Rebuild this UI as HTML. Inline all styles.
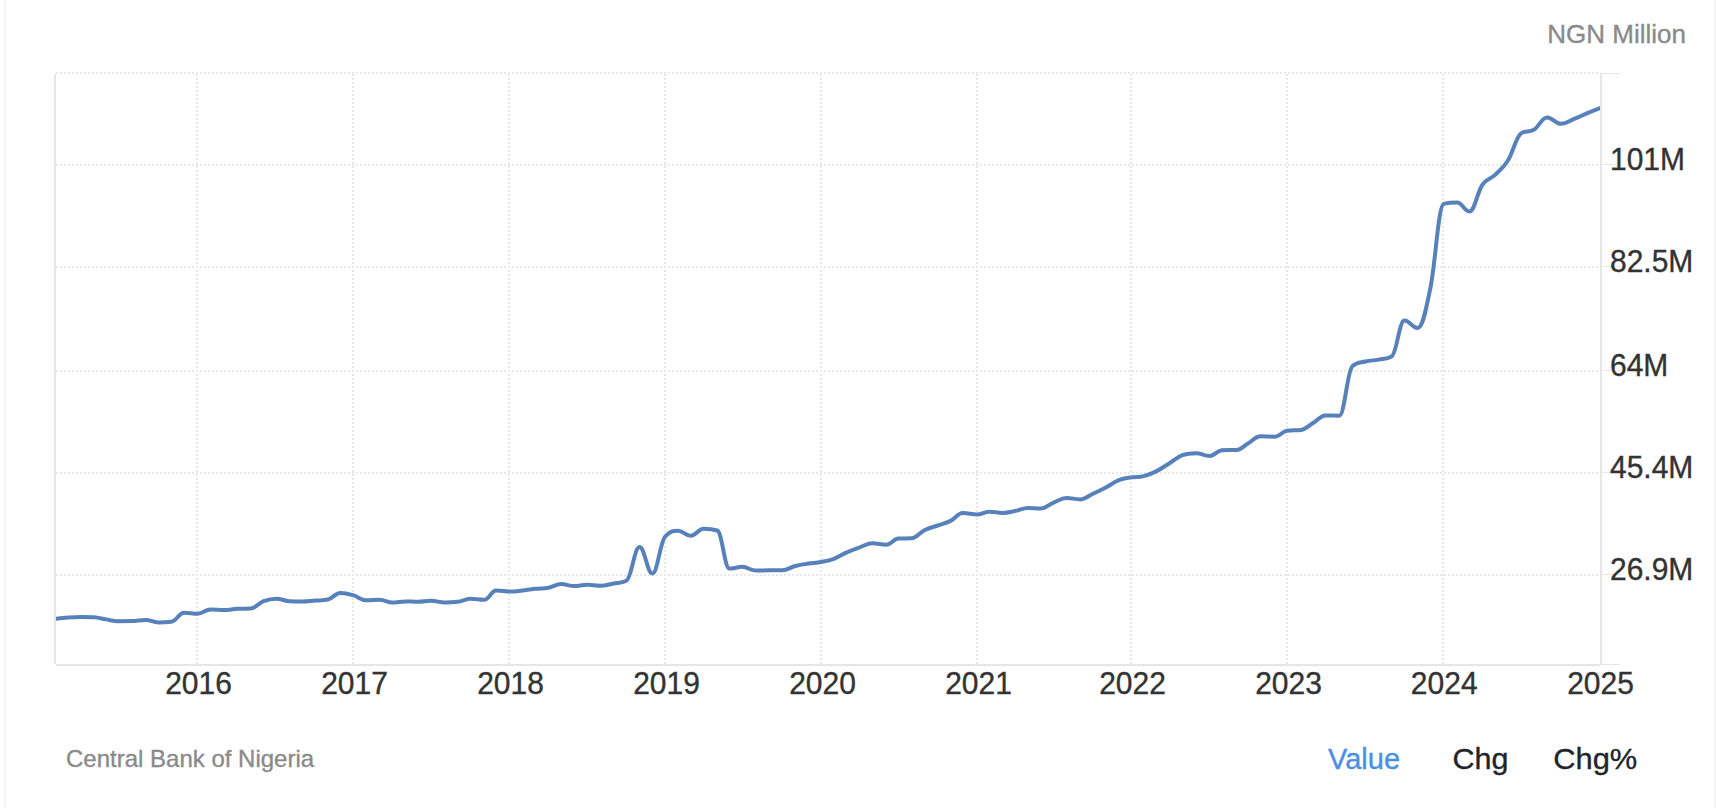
<!DOCTYPE html>
<html lang="en"><head><meta charset="utf-8"><title>Nigeria Money Supply</title>
<style>
html,body{margin:0;padding:0;background:#fff;}
body{width:1716px;height:808px;overflow:hidden;position:relative;font-family:"Liberation Sans",Arial,Helvetica,sans-serif;}
</style></head><body>
<svg width="1716" height="808" viewBox="0 0 1716 808" style="position:absolute;left:0;top:0">
<defs><clipPath id="plot"><rect x="56" y="74" width="1544" height="590"/></clipPath></defs>
<rect x="4" y="0" width="2" height="808" fill="#f4f4f4"/>
<rect x="1714" y="0" width="2" height="808" fill="#f4f4f4"/>
<line x1="56" y1="73" x2="1600" y2="73" stroke="#e8e8e8" stroke-width="2" stroke-dasharray="2 2"/>
<line x1="56" y1="165" x2="1600" y2="165" stroke="#e8e8e8" stroke-width="2" stroke-dasharray="2 2"/>
<line x1="56" y1="267" x2="1600" y2="267" stroke="#e8e8e8" stroke-width="2" stroke-dasharray="2 2"/>
<line x1="56" y1="371" x2="1600" y2="371" stroke="#e8e8e8" stroke-width="2" stroke-dasharray="2 2"/>
<line x1="56" y1="473" x2="1600" y2="473" stroke="#e8e8e8" stroke-width="2" stroke-dasharray="2 2"/>
<line x1="56" y1="575" x2="1600" y2="575" stroke="#e8e8e8" stroke-width="2" stroke-dasharray="2 2"/>
<line x1="197" y1="74" x2="197" y2="664" stroke="#e8e8e8" stroke-width="2" stroke-dasharray="2 2"/>
<line x1="353" y1="74" x2="353" y2="664" stroke="#e8e8e8" stroke-width="2" stroke-dasharray="2 2"/>
<line x1="509" y1="74" x2="509" y2="664" stroke="#e8e8e8" stroke-width="2" stroke-dasharray="2 2"/>
<line x1="665" y1="74" x2="665" y2="664" stroke="#e8e8e8" stroke-width="2" stroke-dasharray="2 2"/>
<line x1="821" y1="74" x2="821" y2="664" stroke="#e8e8e8" stroke-width="2" stroke-dasharray="2 2"/>
<line x1="977" y1="74" x2="977" y2="664" stroke="#e8e8e8" stroke-width="2" stroke-dasharray="2 2"/>
<line x1="1131" y1="74" x2="1131" y2="664" stroke="#e8e8e8" stroke-width="2" stroke-dasharray="2 2"/>
<line x1="1287" y1="74" x2="1287" y2="664" stroke="#e8e8e8" stroke-width="2" stroke-dasharray="2 2"/>
<line x1="1443" y1="74" x2="1443" y2="664" stroke="#e8e8e8" stroke-width="2" stroke-dasharray="2 2"/>
<rect x="54" y="74" width="2" height="590" fill="#e6e6e6"/>
<rect x="56" y="664" width="1544" height="2" fill="#e6e6e6"/>
<rect x="1600" y="73" width="2" height="592" fill="#e6e6e6"/>
<line x1="1602" y1="73.5" x2="1620" y2="73.5" stroke="#e6e6e6" stroke-width="1"/>
<line x1="1602" y1="164.5" x2="1620" y2="164.5" stroke="#e6e6e6" stroke-width="1"/>
<line x1="1602" y1="266.5" x2="1620" y2="266.5" stroke="#e6e6e6" stroke-width="1"/>
<line x1="1602" y1="370.5" x2="1620" y2="370.5" stroke="#e6e6e6" stroke-width="1"/>
<line x1="1602" y1="472.5" x2="1620" y2="472.5" stroke="#e6e6e6" stroke-width="1"/>
<line x1="1602" y1="574.5" x2="1620" y2="574.5" stroke="#e6e6e6" stroke-width="1"/>
<line x1="1602" y1="664.5" x2="1620" y2="664.5" stroke="#e6e6e6" stroke-width="1"/>
<path d="M55.0 618.9C55.0 618.9 62.9 618.0 68.2 617.6C73.4 617.2 75.9 617.0 81.1 617.0C86.2 617.0 88.8 617.0 93.9 617.3C98.7 617.6 101.2 618.6 106.0 619.4C110.9 620.2 113.3 621.2 118.2 621.2C123.6 621.2 126.4 621.2 131.8 621.1C137.3 621.0 140.0 620.0 145.5 620.0C150.6 620.0 153.2 622.4 158.3 622.4C163.5 622.4 166.0 622.4 171.2 621.8C176.4 621.2 178.9 612.7 184.1 612.7C189.5 612.7 192.3 613.8 197.7 613.8C202.9 613.8 205.4 609.4 210.6 609.4C216.0 609.4 218.8 610.0 224.2 610.0C229.4 610.0 231.9 609.1 237.1 608.8C242.6 608.5 245.3 608.8 250.8 608.5C255.9 608.2 258.5 603.1 263.6 601.2C268.8 599.3 271.3 598.8 276.5 598.8C281.7 598.8 284.2 600.9 289.4 601.2C294.6 601.5 297.1 601.5 302.3 601.5C307.5 601.5 310.0 601.0 315.2 600.6C320.3 600.2 322.9 600.6 328.0 599.5C332.9 598.4 335.3 592.9 340.2 592.9C345.3 592.9 347.9 593.7 353.0 595.2C358.2 596.7 360.7 600.2 365.9 600.2C371.3 600.2 374.1 599.8 379.5 599.8C384.7 599.8 387.2 602.6 392.4 602.6C397.6 602.6 400.1 601.4 405.3 601.4C410.5 601.4 413.0 601.8 418.2 601.8C423.4 601.8 425.9 600.8 431.1 600.8C436.5 600.8 439.3 602.4 444.7 602.4C449.9 602.4 452.4 602.4 457.6 601.8C462.8 601.2 465.3 598.8 470.5 598.8C475.9 598.8 478.7 599.8 484.1 599.8C488.9 599.8 491.4 590.5 496.2 590.5C501.6 590.5 504.4 591.5 509.8 591.5C515.0 591.5 517.5 591.0 522.7 590.5C527.9 590.0 530.4 589.4 535.6 588.8C540.8 588.2 543.3 588.6 548.5 587.7C553.6 586.8 556.1 584.1 561.2 584.1C566.4 584.1 568.9 586.1 574.1 586.1C579.3 586.1 581.8 584.8 587.0 584.8C592.4 584.8 595.2 585.8 600.6 585.8C605.8 585.8 608.3 584.5 613.5 583.5C618.7 582.5 621.2 583.5 626.4 580.8C631.6 578.1 634.3 547.1 639.5 547.1C644.7 547.1 647.2 573.5 652.4 573.5C657.4 573.5 660.0 542.8 665.0 536.8C670.2 530.8 672.7 530.8 677.9 530.8C683.1 530.8 685.6 535.8 690.8 535.8C695.9 535.8 698.5 528.8 703.6 528.8C709.1 528.8 711.8 528.8 717.3 530.5C722.1 532.2 724.6 568.6 729.4 568.6C734.6 568.6 737.1 566.8 742.3 566.8C747.7 566.8 750.5 570.6 755.9 570.6C761.1 570.6 763.6 570.3 768.8 570.3C774.2 570.3 777.0 570.3 782.4 570.3C787.6 570.3 790.1 567.3 795.3 566.0C800.5 564.7 803.0 564.4 808.2 563.6C813.4 562.8 815.9 563.0 821.1 562.0C826.2 561.0 828.8 560.7 833.9 558.8C839.1 556.9 841.6 554.7 846.8 552.4C852.0 550.1 854.5 549.1 859.7 547.3C864.9 545.5 867.4 543.3 872.6 543.3C878.0 543.3 880.8 544.8 886.2 544.8C891.0 544.8 893.5 538.9 898.3 538.6C903.6 538.3 906.2 538.6 911.5 538.3C916.8 538.0 919.5 532.6 924.8 530.0C930.0 527.5 932.5 527.3 937.7 525.5C942.9 523.7 945.4 523.5 950.6 520.9C955.4 518.5 957.9 513.0 962.7 513.0C968.5 513.0 971.3 514.5 977.1 514.5C981.9 514.5 984.4 511.7 989.2 511.7C994.7 511.7 997.4 512.9 1002.9 512.9C1008.1 512.9 1010.6 511.8 1015.8 510.8C1020.6 509.9 1023.1 508.0 1027.9 508.0C1033.1 508.0 1035.6 508.5 1040.8 508.5C1045.9 508.5 1048.5 504.7 1053.6 502.6C1058.8 500.5 1061.3 497.9 1066.5 497.9C1072.0 497.9 1074.7 499.4 1080.2 499.4C1085.3 499.4 1087.9 496.2 1093.0 493.8C1098.2 491.4 1100.7 490.1 1105.9 487.4C1111.1 484.7 1113.6 482.3 1118.8 480.2C1123.6 478.3 1126.1 478.2 1130.9 477.4C1136.1 476.6 1138.6 477.4 1143.8 476.1C1149.0 474.8 1151.5 473.7 1156.7 471.1C1161.8 468.5 1164.4 466.4 1169.5 463.2C1174.7 460.0 1177.2 457.2 1182.4 455.2C1187.9 453.2 1190.6 453.2 1196.1 453.2C1201.5 453.2 1204.3 455.9 1209.7 455.9C1214.5 455.9 1217.0 450.4 1221.8 450.2C1227.8 450.0 1230.8 450.2 1236.8 450.0C1241.1 449.8 1243.3 446.3 1247.6 443.8C1252.8 440.8 1255.3 436.2 1260.5 436.2C1266.2 436.2 1269.0 436.7 1274.7 436.7C1279.6 436.7 1282.1 431.5 1287.0 430.7C1292.6 429.9 1295.5 430.7 1301.1 429.9C1306.1 429.1 1308.5 425.7 1313.5 422.8C1318.3 419.9 1320.7 415.4 1325.5 415.4C1331.0 415.4 1333.8 415.7 1339.3 415.7C1344.6 415.7 1347.2 370.5 1352.5 366.0C1357.7 361.5 1360.3 362.8 1365.5 361.5C1370.7 360.2 1373.4 360.6 1378.6 359.6C1383.8 358.6 1386.4 359.6 1391.6 356.6C1396.7 353.6 1399.3 320.6 1404.4 320.6C1409.7 320.6 1412.3 328.0 1417.6 328.0C1422.6 328.0 1425.2 313.0 1430.2 289.0C1435.6 263.3 1438.3 205.2 1443.7 203.9C1449.1 202.6 1451.8 202.6 1457.2 202.6C1462.1 202.6 1464.6 211.5 1469.5 211.5C1474.6 211.5 1477.2 192.3 1482.3 185.0C1487.4 177.7 1490.0 179.8 1495.1 174.9C1500.3 169.9 1502.9 168.5 1508.1 160.2C1513.3 151.9 1515.9 136.8 1521.1 133.3C1526.2 129.8 1528.7 132.9 1533.8 129.8C1539.1 126.5 1541.8 117.4 1547.1 117.4C1552.6 117.4 1555.4 123.8 1560.9 123.8C1566.5 123.8 1569.2 120.8 1574.8 118.6C1579.6 116.7 1582.1 115.4 1586.9 113.4C1592.1 111.2 1600.0 108.2 1600.0 108.2" fill="none" stroke="#5781bb" stroke-width="4" stroke-linejoin="round" stroke-linecap="round" clip-path="url(#plot)"/>
<text transform="translate(198.5 694.3) scale(1 1.07)" text-anchor="middle" font-family="'Liberation Sans', Arial, Helvetica, sans-serif" font-size="30" fill="#333" stroke="#333" stroke-width="0.35">2016</text>
<text transform="translate(354.5 694.3) scale(1 1.07)" text-anchor="middle" font-family="'Liberation Sans', Arial, Helvetica, sans-serif" font-size="30" fill="#333" stroke="#333" stroke-width="0.35">2017</text>
<text transform="translate(510.5 694.3) scale(1 1.07)" text-anchor="middle" font-family="'Liberation Sans', Arial, Helvetica, sans-serif" font-size="30" fill="#333" stroke="#333" stroke-width="0.35">2018</text>
<text transform="translate(666.5 694.3) scale(1 1.07)" text-anchor="middle" font-family="'Liberation Sans', Arial, Helvetica, sans-serif" font-size="30" fill="#333" stroke="#333" stroke-width="0.35">2019</text>
<text transform="translate(822.5 694.3) scale(1 1.07)" text-anchor="middle" font-family="'Liberation Sans', Arial, Helvetica, sans-serif" font-size="30" fill="#333" stroke="#333" stroke-width="0.35">2020</text>
<text transform="translate(978.5 694.3) scale(1 1.07)" text-anchor="middle" font-family="'Liberation Sans', Arial, Helvetica, sans-serif" font-size="30" fill="#333" stroke="#333" stroke-width="0.35">2021</text>
<text transform="translate(1132.5 694.3) scale(1 1.07)" text-anchor="middle" font-family="'Liberation Sans', Arial, Helvetica, sans-serif" font-size="30" fill="#333" stroke="#333" stroke-width="0.35">2022</text>
<text transform="translate(1288.5 694.3) scale(1 1.07)" text-anchor="middle" font-family="'Liberation Sans', Arial, Helvetica, sans-serif" font-size="30" fill="#333" stroke="#333" stroke-width="0.35">2023</text>
<text transform="translate(1444.2 694.3) scale(1 1.07)" text-anchor="middle" font-family="'Liberation Sans', Arial, Helvetica, sans-serif" font-size="30" fill="#333" stroke="#333" stroke-width="0.35">2024</text>
<text transform="translate(1600.5 694.3) scale(1 1.07)" text-anchor="middle" font-family="'Liberation Sans', Arial, Helvetica, sans-serif" font-size="30" fill="#333" stroke="#333" stroke-width="0.35">2025</text>
<text transform="translate(1610 170.3) scale(1 1.07)" font-family="'Liberation Sans', Arial, Helvetica, sans-serif" font-size="30" fill="#333" stroke="#333" stroke-width="0.35">101M</text>
<text transform="translate(1610 272.3) scale(1 1.07)" font-family="'Liberation Sans', Arial, Helvetica, sans-serif" font-size="30" fill="#333" stroke="#333" stroke-width="0.35">82.5M</text>
<text transform="translate(1610 376.3) scale(1 1.07)" font-family="'Liberation Sans', Arial, Helvetica, sans-serif" font-size="30" fill="#333" stroke="#333" stroke-width="0.35">64M</text>
<text transform="translate(1610 478.3) scale(1 1.07)" font-family="'Liberation Sans', Arial, Helvetica, sans-serif" font-size="30" fill="#333" stroke="#333" stroke-width="0.35">45.4M</text>
<text transform="translate(1610 580.3) scale(1 1.07)" font-family="'Liberation Sans', Arial, Helvetica, sans-serif" font-size="30" fill="#333" stroke="#333" stroke-width="0.35">26.9M</text>
<text x="1686" y="43" text-anchor="end" font-family="'Liberation Sans', Arial, Helvetica, sans-serif" font-size="26" fill="#8a8a8a" stroke="#8a8a8a" stroke-width="0.35">NGN Million</text>
<text x="66" y="767" font-family="'Liberation Sans', Arial, Helvetica, sans-serif" font-size="24" fill="#8a8a8a" stroke="#8a8a8a" stroke-width="0.35">Central Bank of Nigeria</text>
<text x="1328" y="769.3" font-family="'Liberation Sans', Arial, Helvetica, sans-serif" font-size="29" fill="#4a90e2" stroke="#4a90e2" stroke-width="0.35">Value</text>
<text x="1452.5" y="769.3" font-family="'Liberation Sans', Arial, Helvetica, sans-serif" font-size="29" fill="#212529" stroke="#212529" stroke-width="0.35" textLength="56" lengthAdjust="spacingAndGlyphs">Chg</text>
<text x="1553.3" y="769.3" font-family="'Liberation Sans', Arial, Helvetica, sans-serif" font-size="29" fill="#212529" stroke="#212529" stroke-width="0.35" textLength="84" lengthAdjust="spacingAndGlyphs">Chg%</text>
</svg>
</body></html>
